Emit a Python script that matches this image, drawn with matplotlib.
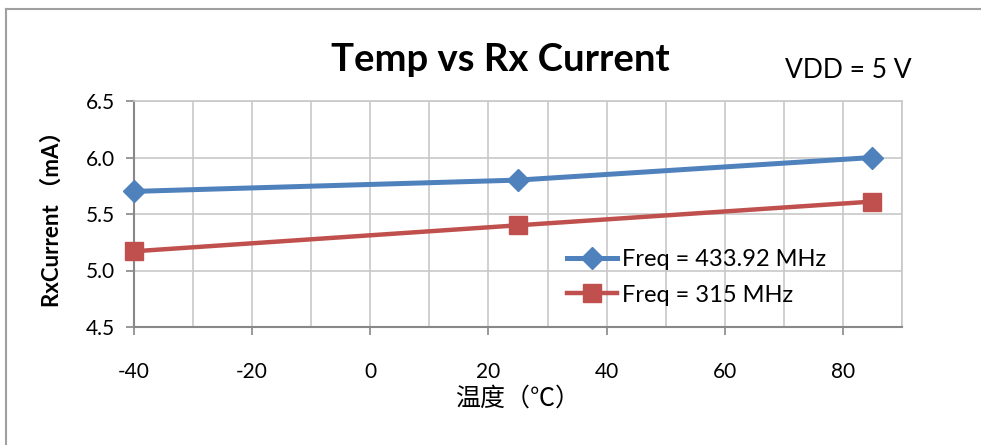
import matplotlib.pyplot as plt
from matplotlib.lines import Line2D

# data
temps = [-40, 25, 85]
rx_433 = [5.70, 5.80, 6.00]
rx_315 = [5.17, 5.40, 5.61]
label_433 = "Freq = 433.92 MHz"
label_315 = "Freq = 315 MHz"
x_ticks = [-40, -20, 0, 20, 40, 60, 80]
x_grid = list(range(-40, 91, 10))
y_ticks = [4.5, 5.0, 5.5, 6.0, 6.5]

plt.rcParams['font.family'] = ['Lato', 'Noto Sans CJK SC', 'DejaVu Sans']
plt.rcParams['axes.unicode_minus'] = False

fig = plt.figure(figsize=(9.81, 4.45), dpi=100)
ax = fig.add_axes([134 / 981, 118 / 445, 768 / 981, 226 / 445])

# chart border (left and top visible)
fig.add_artist(Line2D([6 / 981, 6 / 981], [0, 1 - 9 / 445], color='#a0a0a0', lw=1.5))
fig.add_artist(Line2D([6 / 981, 1], [1 - 9 / 445, 1 - 9 / 445], color='#a0a0a0', lw=1.5))

ax.plot(temps, rx_433, color='#4F81BD', lw=3.6, marker='D', markersize=11,
        label=label_433, clip_on=False, zorder=3)
ax.plot(temps, rx_315, color='#C0504D', lw=3.2, marker='s', markersize=13,
        label=label_315, clip_on=False, zorder=3)

ax.set_xlim(-40, 90)
ax.set_ylim(4.5, 6.5)
ax.set_xticks(x_ticks)
ax.set_xticks(x_grid, minor=True)
ax.set_yticks(y_ticks)
ax.set_yticklabels([f"{v:.1f}" for v in y_ticks])
ax.grid(True, which='both', color='#c8c8c8', lw=1.2)
ax.set_axisbelow(True)
ax.tick_params(axis='x', which='minor', length=0)
ax.tick_params(axis='both', which='major', labelsize=15, length=6, color='#888888', width=1.2)
ax.tick_params(axis='x', pad=19)
ax.tick_params(axis='y', pad=8)

for side in ['top', 'right']:
    ax.spines[side].set_color('#c8c8c8')
    ax.spines[side].set_linewidth(1.2)
for side in ['left', 'bottom']:
    ax.spines[side].set_color('#888888')
    ax.spines[side].set_linewidth(1.5)

ax.set_xlabel("温度（℃）", fontsize=18, labelpad=3)
ax.set_ylabel("RxCurrent （mA）", fontsize=16, fontweight='bold', labelpad=16)
fig.text(500 / 981, 1 - 60 / 445, "Temp vs Rx Current", fontsize=27.5, fontweight='bold',
         ha='center', va='center')
fig.text(848 / 981, 1 - 70 / 445, "VDD = 5 V", fontsize=19, ha='center', va='center')

ax.legend(loc='upper left', bbox_to_anchor=((567 - 134) / 768, (327 - 249) / 226),
          frameon=False, fontsize=17, handlelength=2.1, handletextpad=0.25,
          labelspacing=0.62, borderaxespad=0, borderpad=0)

fig.savefig("out.png", dpi=100)
